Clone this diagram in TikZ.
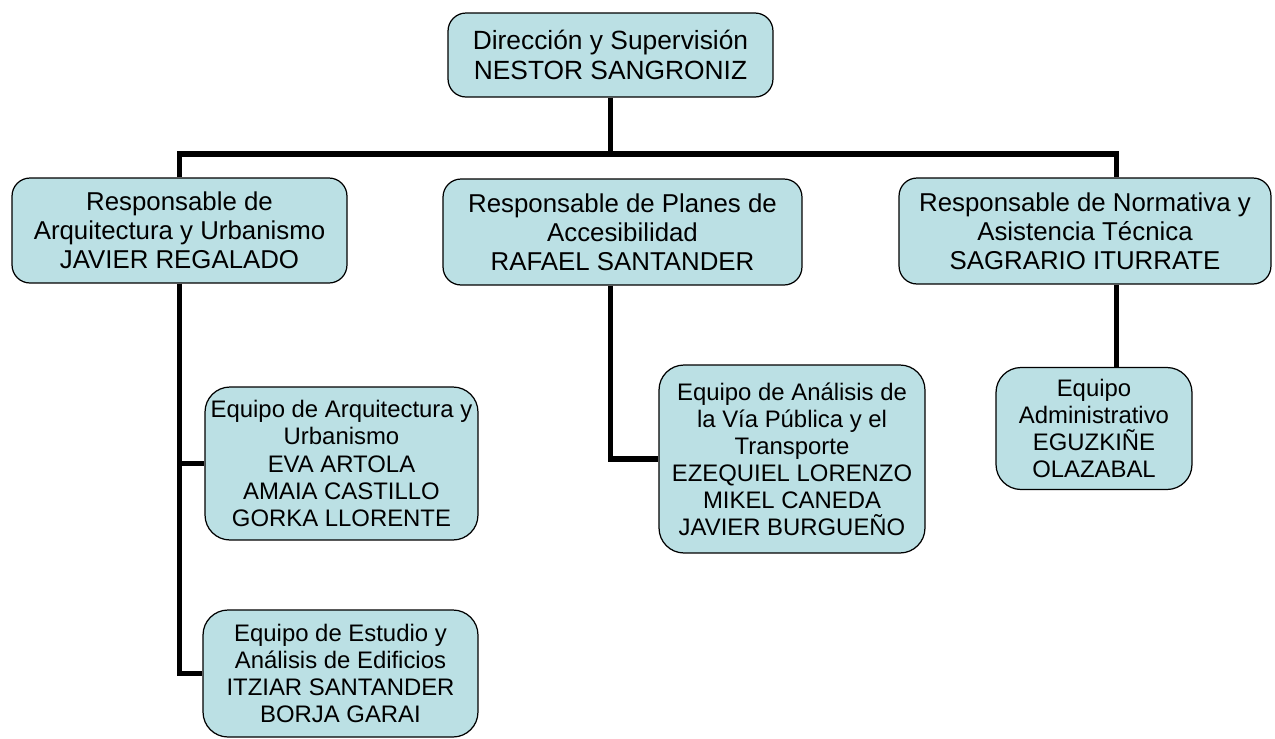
\documentclass[tikz,border=0pt]{standalone}
\usepackage{fontspec}
\setmainfont{Liberation Sans}
\usepackage{xcolor}
\definecolor{boxfill}{RGB}{187,224,228}

\begin{document}
\begin{tikzpicture}[x=0.02cm,y=-0.02cm,
 box/.style={draw,fill=boxfill,line width=0.7pt,rounded corners=0.36cm,align=center,inner sep=0pt,
  font=\fontsize{14.7}{16.6}\selectfont},
 team/.style={box,rounded corners=0.5cm,font=\fontsize{13.6}{15.4}\selectfont},
 link/.style={line width=3.4pt,line join=miter}]
\useasboundingbox (0,0) rectangle (1275,738);
\node[box,minimum width=6.5cm,minimum height=1.68cm,font=\fontsize{15}{17}\selectfont] (top) at (610.5,55)
 {Dirección y Supervisión\\NESTOR SANGRONIZ};
\node[box,minimum width=6.7cm,minimum height=2.1cm] (arq) at (179.5,230.5)
 {Responsable de\\Arquitectura y Urbanismo\\JAVIER REGALADO};
\node[box,minimum width=7.18cm,minimum height=2.12cm] (pla) at (622.5,232)
 {Responsable de Planes de\\Accesibilidad\\RAFAEL SANTANDER};
\node[box,minimum width=7.44cm,minimum height=2.12cm] (nor) at (1085,231)
 {Responsable de Normativa y\\Asistencia Técnica\\SAGRARIO ITURRATE};
\node[team,minimum width=5.46cm,minimum height=3.06cm] (eqarq) at (341.5,463.5)
 {Equipo de Arquitectura y\\Urbanismo\\EVA ARTOLA\\AMAIA CASTILLO\\GORKA LLORENTE};
\node[team,minimum width=5.5cm,minimum height=2.54cm] (eqest) at (340.5,673.5)
 {Equipo de Estudio y\\Análisis de Edificios\\ITZIAR SANTANDER\\BORJA GARAI};
\node[team,minimum width=5.32cm,minimum height=3.76cm] (eqvia) at (792,459)
 {Equipo de Análisis de\\la Vía Pública y el\\Transporte\\EZEQUIEL LORENZO\\MIKEL CANEDA\\JAVIER BURGUEÑO};
\node[team,minimum width=3.92cm,minimum height=2.44cm] (eqadm) at (1094,428.5)
 {Equipo\\Administrativo\\EGUZKIÑE\\OLAZABAL};
% bus line under the director
\coordinate (busL) at (179.5,154);
\coordinate (busR) at (1116.5,154);
\draw[link] (top.south) -- (top.south |- busL);
\draw[link] (arq.north) -- (busL) -- (busR) -- (busR |- nor.north);
% branches to the teams
\draw[link] (arq.south) |- (eqarq.west);
\draw[link] (arq.south) |- (eqest.west);
\draw[link] (top.south |- pla.south) |- (eqvia.west);
\draw[link] (busR |- nor.south) -- (busR |- eqadm.north);
\end{tikzpicture}
\end{document}
